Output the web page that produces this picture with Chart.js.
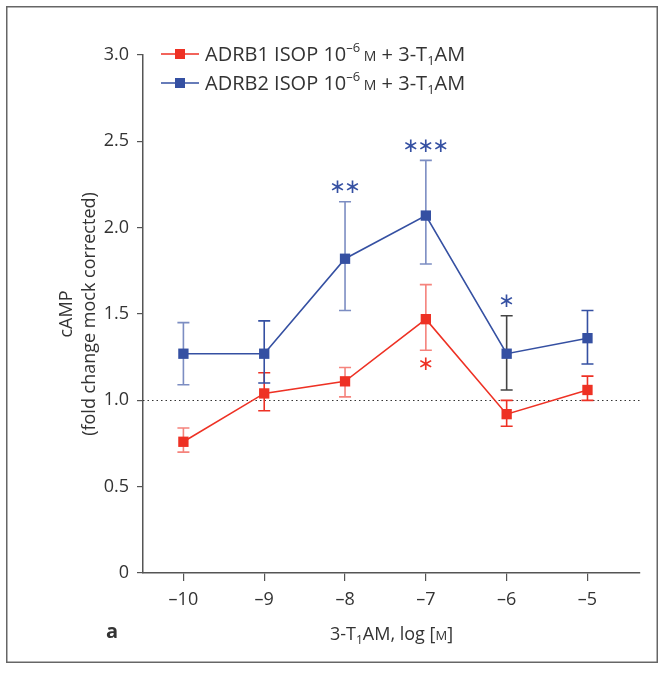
<!DOCTYPE html>
<html><head><meta charset="utf-8">
<style>html,body{margin:0;padding:0;background:#fff;}#wrap{width:664px;height:674px;}</style>
<script src="https://cdn.jsdelivr.net/npm/chart.js@4/dist/chart.umd.min.js"></script>
</head><body><div id="wrap"><canvas id="c" width="664" height="674"></canvas></div>
<script>
// ---- data ----
const doses = [-10, -9, -8, -7, -6, -5];
const adrb1Mean = [0.76, 1.04, 1.11, 1.47, 0.92, 1.06];
const adrb1Upper = [0.84, 1.16, 1.19, 1.67, 1.00, 1.14];
const adrb1Lower = [0.70, 0.94, 1.02, 1.29, 0.85, 1.00];
const adrb1Sig = ['', '', '', '*', '', ''];
const adrb2Mean = [1.27, 1.27, 1.82, 2.07, 1.27, 1.36];
const adrb2Upper = [1.45, 1.46, 2.15, 2.39, 1.49, 1.52];
const adrb2Lower = [1.09, 1.10, 1.52, 1.79, 1.06, 1.21];
const adrb2Sig = ['', '', '**', '***', '*', ''];
const yTicks = [0, 0.5, 1.0, 1.5, 2.0, 2.5, 3.0];
const refLine = 1.0;

const RED = '#ee3124', BLUE = '#3550a2';
const RED_ERR = 'rgba(238,49,36,0.6)', BLUE_ERR = 'rgba(53,80,162,0.65)';
const FONT = '"Open Sans", "Noto Sans", sans-serif';
const TXT = '#333';

const series = [
  {mean: adrb1Mean, upper: adrb1Upper, lower: adrb1Lower, sig: adrb1Sig, sigPos: 'below', color: RED,
   errColors: [RED_ERR, RED, RED_ERR, RED_ERR, RED, RED]},
  {mean: adrb2Mean, upper: adrb2Upper, lower: adrb2Lower, sig: adrb2Sig, sigPos: 'above', color: BLUE,
   errColors: [BLUE_ERR, BLUE, BLUE_ERR, BLUE_ERR, '#444', BLUE]}
];

function drawRich(ctx, x, base, parts, align) {
  let total = 0;
  parts.forEach(p => { ctx.font = (p.w || '') + ' ' + p.s + 'px ' + FONT; p.width = ctx.measureText(p.t).width; total += p.width; });
  let cx = align === 'center' ? x - total / 2 : x;
  ctx.textAlign = 'left'; ctx.textBaseline = 'alphabetic';
  parts.forEach(p => { ctx.font = (p.w || '') + ' ' + p.s + 'px ' + FONT; ctx.fillText(p.t, cx, base + (p.dy || 0)); cx += p.width; });
}

const decor = {
  id: 'decor',
  beforeDraw(chart) {
    const ctx = chart.ctx; ctx.save();
    ctx.fillStyle = '#fff'; ctx.fillRect(0, 0, chart.width, chart.height);
    ctx.strokeStyle = '#666'; ctx.lineWidth = 1.5; ctx.strokeRect(6.75, 6.75, 650.5, 655.5);
    ctx.restore();
  },
  beforeDatasetsDraw(chart) {
    const {ctx, scales: {x, y}, chartArea} = chart;
    ctx.save();
    ctx.setLineDash([1.5, 3]); ctx.strokeStyle = '#333'; ctx.lineWidth = 1;
    const yy = Math.round(y.getPixelForValue(refLine)) + 0.5;
    ctx.beginPath(); ctx.moveTo(chartArea.left, yy); ctx.lineTo(chartArea.right, yy); ctx.stroke();
    ctx.setLineDash([]);
    series.forEach(s => {
      doses.forEach((d, i) => {
        const px = x.getPixelForValue(d), y1 = y.getPixelForValue(s.upper[i]), y2 = y.getPixelForValue(s.lower[i]);
        ctx.strokeStyle = s.errColors[i]; ctx.lineWidth = 1.6;
        ctx.beginPath();
        ctx.moveTo(px, y1); ctx.lineTo(px, y2);
        ctx.moveTo(px - 6, y1); ctx.lineTo(px + 6, y1);
        ctx.moveTo(px - 6, y2); ctx.lineTo(px + 6, y2);
        ctx.stroke();
      });
    });
    ctx.restore();
  },
  afterDraw(chart) {
    const {ctx, scales: {x, y}, chartArea} = chart;
    ctx.save();
    // significance stars
    series.forEach(s => {
      doses.forEach((d, i) => {
        const str = s.sig[i]; if (!str) return;
        const px = x.getPixelForValue(d);
        const cy = s.sigPos === 'above' ? y.getPixelForValue(s.upper[i]) - 15 : y.getPixelForValue(s.lower[i]) + 13;
        ctx.font = '20px "DejaVu Sans", sans-serif';
        ctx.fillStyle = s.color; ctx.textAlign = 'center'; ctx.textBaseline = 'alphabetic';
        const m = ctx.measureText('\u2217');
        const off = (m.actualBoundingBoxAscent - m.actualBoundingBoxDescent) / 2;
        const n = str.length, gap = 15;
        for (let k = 0; k < n; k++) {
          ctx.fillText('\u2217', px + (k - (n - 1) / 2) * gap, cy + off);
        }
      });
    });
    // legend
    const rows = [{s: series[0], label: 'ADRB1', yc: 54}, {s: series[1], label: 'ADRB2', yc: 83}];
    rows.forEach(r => {
      ctx.strokeStyle = r.s.color; ctx.lineWidth = 1.5;
      ctx.beginPath(); ctx.moveTo(161, r.yc); ctx.lineTo(199, r.yc); ctx.stroke();
      ctx.fillStyle = r.s.color; ctx.fillRect(175, r.yc - 5, 10, 10);
      ctx.fillStyle = TXT;
      drawRich(ctx, 205, r.yc + 7, [
        {t: r.label + ' ISOP 10', s: 20},
        {t: '\u20136', s: 13, dy: -9},
        {t: ' M', s: 14},
        {t: ' + 3-T', s: 20},
        {t: '1', s: 13, dy: 4},
        {t: 'AM', s: 20}
      ]);
    });
    // x title
    ctx.fillStyle = TXT;
    drawRich(ctx, (chartArea.left + chartArea.right) / 2, 640, [
      {t: '3-T', s: 18}, {t: '1', s: 12, dy: 4}, {t: 'AM, log [', s: 18}, {t: 'M', s: 13}, {t: ']', s: 18}
    ], 'center');
    // panel label
    drawRich(ctx, 106, 638, [{t: 'a', s: 20, w: 'bold'}]);
    // y title
    ctx.translate(0, (chartArea.top + chartArea.bottom) / 2);
    ctx.rotate(-Math.PI / 2);
    ctx.textAlign = 'center'; ctx.textBaseline = 'middle';
    ctx.font = '18px ' + FONT;
    ctx.fillText('cAMP', 0, 67);
    ctx.fillText('(fold change mock corrected)', 0, 90);
    ctx.restore();
  }
};

new Chart(document.getElementById('c'), {
  type: 'line',
  data: {
    datasets: series.map((s, k) => ({
      label: k === 0 ? 'ADRB1 ISOP 10-6 M + 3-T1AM' : 'ADRB2 ISOP 10-6 M + 3-T1AM',
      data: doses.map((d, i) => ({x: d, y: s.mean[i]})),
      borderColor: s.color, backgroundColor: s.color,
      pointBackgroundColor: s.color, pointBorderColor: s.color,
      borderWidth: 1.6, pointStyle: 'rect', pointRadius: 7.3, pointBorderWidth: 0,
      tension: 0, fill: false
    }))
  },
  options: {
    responsive: false, animation: false,
    layout: {padding: {left: 0, right: 24, top: 55, bottom: 51}},
    plugins: {legend: {display: false}, tooltip: {enabled: false}},
    scales: {
      x: {
        type: 'linear', min: -10.5, max: -4.35,
        afterFit: sc => { sc.height = 50; },
        afterBuildTicks: sc => { sc.ticks = doses.map(v => ({value: v})); },
        grid: {display: true, drawOnChartArea: false, drawTicks: true, tickLength: 8, color: '#555', lineWidth: 1.2},
        border: {display: true, color: '#555', width: 1.5},
        ticks: {color: TXT, font: {family: FONT, size: 18}, padding: 8, maxRotation: 0,
          callback: v => '\u2013' + Math.abs(v)}
      },
      y: {
        min: 0, max: 3,
        afterFit: sc => { sc.width = 143; },
        afterBuildTicks: sc => { sc.ticks = yTicks.map(v => ({value: v})); },
        grid: {display: true, drawOnChartArea: false, drawTicks: true, tickLength: 6, color: '#555', lineWidth: 1.2},
        border: {display: true, color: '#555', width: 1.5},
        ticks: {color: TXT, font: {family: FONT, size: 18}, padding: 8,
          callback: v => v === 0 ? '0' : v.toFixed(1)}
      }
    }
  },
  plugins: [decor]
});
</script></body></html>
